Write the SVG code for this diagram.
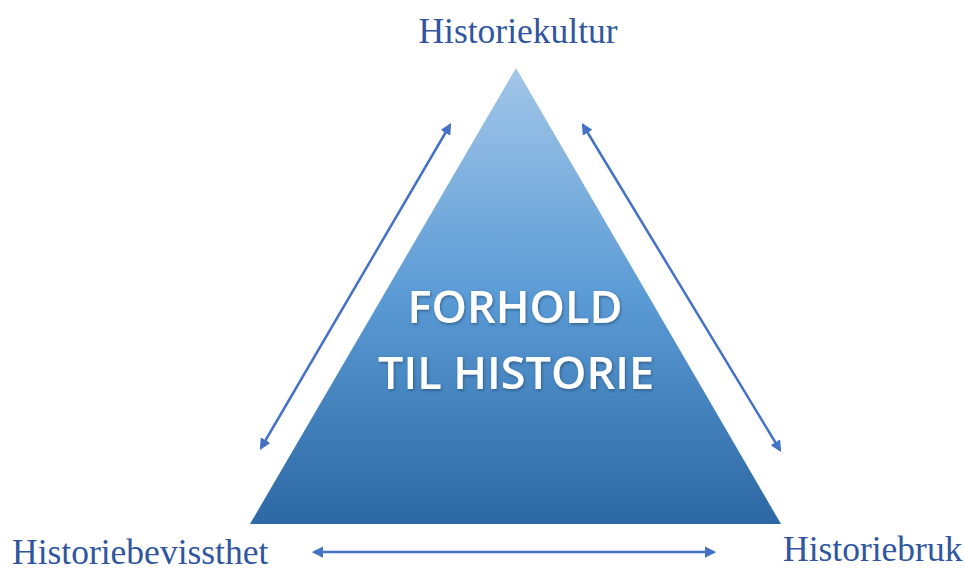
<svg xmlns="http://www.w3.org/2000/svg" width="964" height="568" viewBox="0 0 964 568">
<style>
.lbl{font-family:"Liberation Serif","Times New Roman",serif;font-size:35.5px;fill:#2f569f}
.ctr{font-family:"Open Sans","Noto Sans",sans-serif;font-size:45px;font-weight:600;fill:#ffffff;text-anchor:middle}
.conn{stroke:#4472c4;stroke-width:2.5;fill:none;marker-start:url(#ah);marker-end:url(#ah)}
</style>
<defs>
<linearGradient id="g" x1="0" y1="0" x2="0" y2="1">
<stop offset="0" stop-color="#a2c6e8"/>
<stop offset="0.5" stop-color="#5b9bd5"/>
<stop offset="1" stop-color="#2c68a4"/>
</linearGradient>
<marker id="ah" viewBox="0 0 10 10" refX="8" refY="5" markerWidth="4.5" markerHeight="4.5" orient="auto-start-reverse">
<path d="M0,0 L10,5 L0,10 z" fill="#4472c4"/>
</marker>
<filter id="sh" x="-10%" y="-20%" width="120%" height="140%">
<feDropShadow dx="1" dy="1.5" stdDeviation="1.5" flood-color="#1f3f66" flood-opacity="0.6"/>
</filter>
</defs>
<g id="triangle">
<polygon points="516,68 250,524 781,524" fill="url(#g)"/>
<text class="ctr" x="515" y="323" filter="url(#sh)">FORHOLD</text>
<text class="ctr" x="516" y="389" filter="url(#sh)">TIL HISTORIE</text>
</g>
<g id="historiekultur"><text class="lbl" x="518" y="43" text-anchor="middle">Historiekultur</text></g>
<g id="historiebevissthet"><text class="lbl" x="12" y="564">Historiebevissthet</text></g>
<g id="historiebruk"><text class="lbl" x="783" y="561">Historiebruk</text></g>
<g id="connectors">
<line class="conn" x1="261" y1="448" x2="450" y2="125"/>
<line class="conn" x1="583" y1="125" x2="780" y2="450"/>
<line class="conn" x1="314" y1="552" x2="714" y2="552"/>
</g>
</svg>
